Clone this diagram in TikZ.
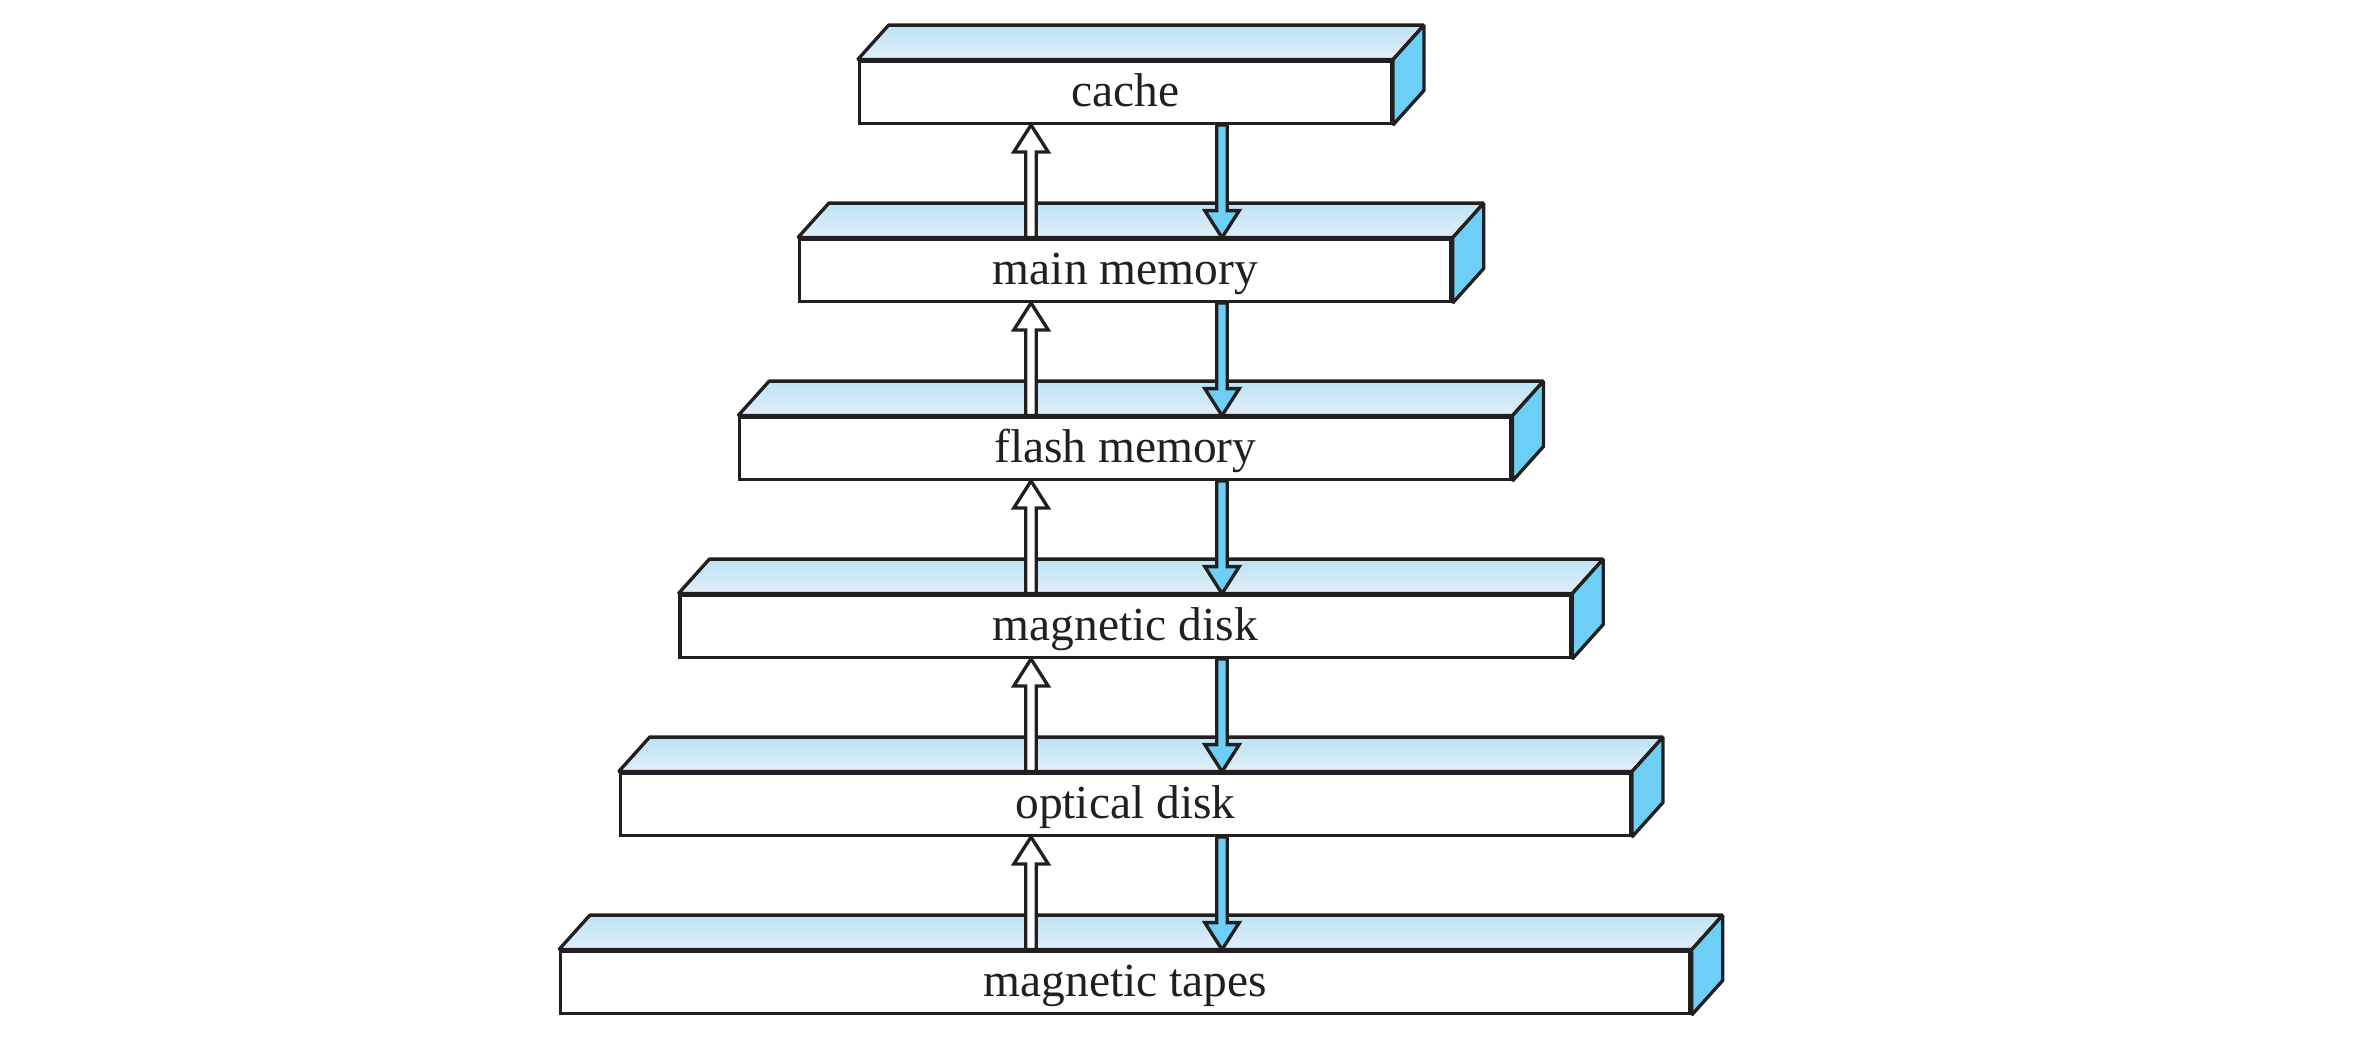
\documentclass[tikz,border=0pt]{standalone}
\usepackage{fontspec}
\setmainfont{Liberation Serif}
\usetikzlibrary{calc}

\definecolor{edge}{HTML}{231F20}
\definecolor{sideblue}{HTML}{6DCFF6}
\definecolor{topback}{HTML}{BCE3F5}
\definecolor{topfront}{HTML}{E2EFF8}

\begin{document}
\begin{tikzpicture}[line width=0.95pt,
  level/.style={draw=edge, fill=white, minimum height=0.62cm, inner sep=0pt,
    text height=0.34cm, text depth=0.05cm, text=edge,
    font=\fontsize{13.5pt}{16pt}\selectfont},
  topface/.style={draw=edge, line join=bevel, top color=topback, bottom color=topfront},
  sideface/.style={draw=edge, line join=bevel, fill=sideblue},
  uparrow/.style={draw=edge, line join=miter, fill=white},
  downarrow/.style={draw=edge, line join=miter, fill=sideblue}]

\useasboundingbox (0,0) rectangle (23.62,10.45);

% LEVELS (front face, top face, side face)
\foreach \lab [count=\i from 0] in {cache, main memory, flash memory, magnetic disk, optical disk, magnetic tapes}{
  \pgfmathsetmacro\lw{5.32+1.195*\i}
  \node[level, minimum width=\lw cm] (l\i) at (11.253, {9.527-1.78*\i}) {\lab};
  \draw[topface] (l\i.north west) -- ++(0.31,0.345) -- ($(l\i.north east)+(0.31,0.345)$) -- (l\i.north east) -- cycle;
  \draw[sideface] (l\i.north east) -- ++(0.31,0.345) -- ($(l\i.south east)+(0.31,0.345)$) -- (l\i.south east) -- cycle;
}

% ARROWS between neighbouring levels
\foreach \i [count=\j from 1] in {0,...,4}{
  % up (white)
  \draw[uparrow] let \p1=($(l\j.north)+(-0.943,0)$), \p2=($(l\i.south)+(-0.943,0)$) in
    (\x1-0.052cm,\y1) -- (\x1-0.052cm,\y2-0.27cm) -- (\x1-0.172cm,\y2-0.27cm) -- (\x2,\y2)
    -- (\x1+0.172cm,\y2-0.27cm) -- (\x1+0.052cm,\y2-0.27cm) -- (\x1+0.052cm,\y1) -- cycle;
  % down (blue)
  \draw[downarrow] let \p1=($(l\i.south)+(0.967,0)$), \p2=($(l\j.north)+(0.967,0)$) in
    (\x1-0.052cm,\y1) -- (\x1-0.052cm,\y2+0.27cm) -- (\x1-0.172cm,\y2+0.27cm) -- (\x2,\y2)
    -- (\x1+0.172cm,\y2+0.27cm) -- (\x1+0.052cm,\y2+0.27cm) -- (\x1+0.052cm,\y1) -- cycle;
}

\end{tikzpicture}
\end{document}
